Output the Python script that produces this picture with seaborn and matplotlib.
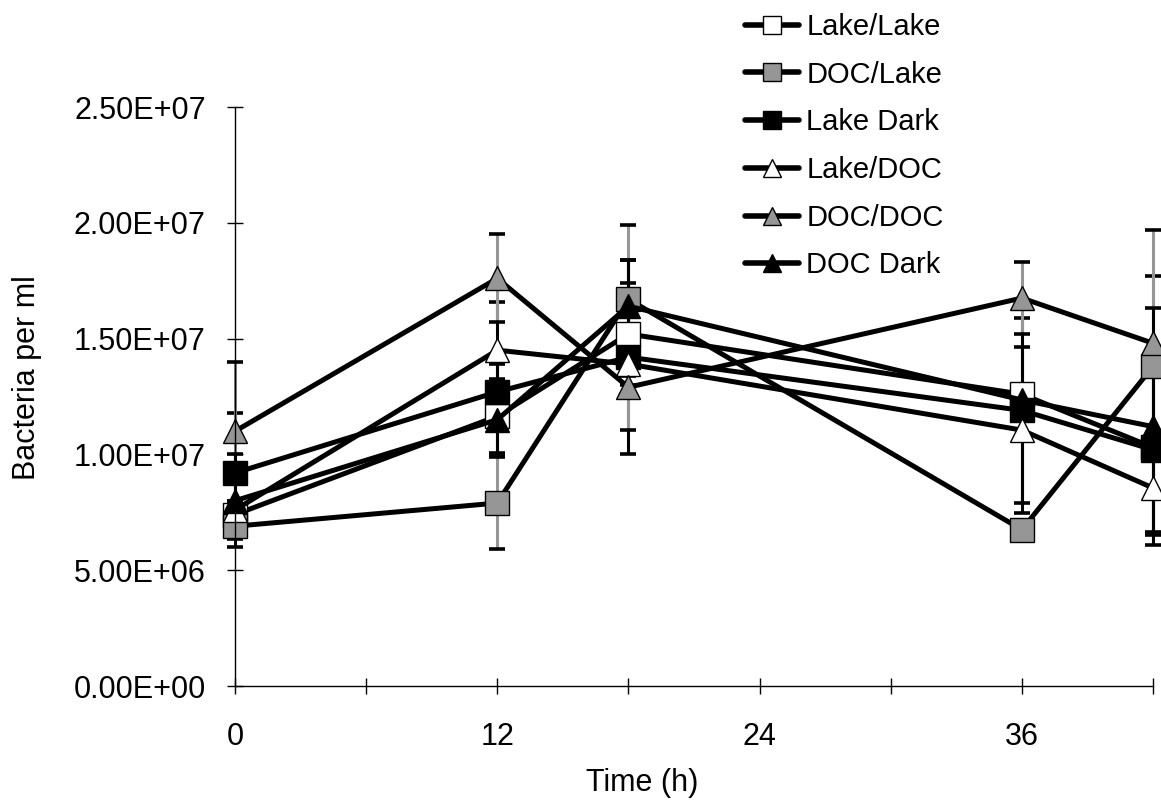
import numpy as np
import pandas as pd
import matplotlib
matplotlib.use("Agg")
import matplotlib.pyplot as plt
import seaborn as sns

# ---------------- data ----------------
times = [0, 12, 18, 36, 42]
series_names = ["Lake/Lake", "DOC/Lake", "Lake Dark", "Lake/DOC", "DOC/DOC", "DOC Dark"]

lake_lake = [7.4e6, 11.65e6, 15.2e6, 12.6e6, 10.3e6]
doc_lake = [6.9e6, 7.9e6, 16.7e6, 6.75e6, 13.8e6]
lake_dark = [9.2e6, 12.7e6, 14.2e6, 11.9e6, 10.2e6]
lake_doc = [7.6e6, 14.5e6, 13.9e6, 11.05e6, 8.55e6]
doc_doc = [11.0e6, 17.6e6, 12.9e6, 16.75e6, 14.8e6]
doc_dark = [8.0e6, 11.5e6, 16.4e6, 12.35e6, 11.2e6]

err_lake_lake = [0.6e6, 1.6e6, 2.2e6, 0.4e6, 0.5e6]
err_doc_lake = [0.55e6, 2.0e6, 3.2e6, 0.4e6, 3.9e6]
err_lake_dark = [2.6e6, 1.2e6, 4.2e6, 4.0e6, 3.7e6]
err_lake_doc = [0.4e6, 2.1e6, 0.5e6, 3.6e6, 1.9e6]
err_doc_doc = [3.0e6, 1.9e6, 1.85e6, 1.55e6, 4.9e6]
err_doc_dark = [2.0e6, 1.55e6, 2.0e6, 0.4e6, 5.1e6]

x_ticks = [0, 6, 12, 18, 24, 30, 36, 42]
x_tick_labels = ["0", "", "12", "", "24", "", "36", ""]
y_ticks = [0, 5e6, 1e7, 1.5e7, 2e7, 2.5e7]

x_label = "Time (h)"
y_label = "Bacteria per ml"

values = [lake_lake, doc_lake, lake_dark, lake_doc, doc_doc, doc_dark]
errors = [err_lake_lake, err_doc_lake, err_lake_dark, err_lake_doc, err_doc_doc, err_doc_dark]

# ---------------- styles ----------------
GRAY = "#969696"
markers = ["s", "s", "s", "^", "^", "^"]
face_colors = ["white", GRAY, "black", "white", GRAY, "black"]
bar_colors = ["black", GRAY, "black", "black", GRAY, "black"]

sns.set_style("white")
plt.rcParams["font.family"] = ["Liberation Sans", "DejaVu Sans"]
plt.rcParams["text.color"] = "black"
plt.rcParams["axes.labelcolor"] = "black"
plt.rcParams["xtick.color"] = "black"
plt.rcParams["ytick.color"] = "black"

fig = plt.figure(figsize=(11.61, 8.06), dpi=100)
ax = fig.add_axes([235 / 1161, (806 - 686) / 806, (1153 - 235) / 1161, 579 / 806])

rows = []
for name, vals in zip(series_names, values):
    for t, v in zip(times, vals):
        rows.append({"Time": t, "Bacteria": v, "Series": name})
df = pd.DataFrame(rows)

for i, name in enumerate(series_names):
    sub = df[df["Series"] == name]
    eb = ax.errorbar(sub["Time"], sub["Bacteria"], yerr=errors[i], fmt="none",
                     ecolor=bar_colors[i], elinewidth=2.2, capsize=6, capthick=2.6,
                     clip_on=False, zorder=1.5)
    for cl in eb[1]:
        cl.set_color("black")
        cl.set_markeredgecolor("black")
        cl.set_markerfacecolor("black")
        cl.set_clip_on(False)
    for lc in eb[2]:
        lc.set_clip_on(False)

for i, name in enumerate(series_names):
    sub = df[df["Series"] == name]
    sns.lineplot(data=sub, x="Time", y="Bacteria", ax=ax, color="black",
                 linewidth=3.6, marker=markers[i], markersize=17,
                 markerfacecolor=face_colors[i], markeredgecolor="black",
                 markeredgewidth=1.0, label=name, clip_on=False, zorder=2 + i * 0.01,
                 legend=False)

ax.set_xlim(0, 42)
ax.set_ylim(0, 2.5e7)
ax.set_xticks(x_ticks)
ax.set_xticklabels(x_tick_labels)
ax.set_yticks(y_ticks)
ax.set_yticklabels([f"{v:.2E}" for v in y_ticks])

for s in ["top", "right"]:
    ax.spines[s].set_visible(False)
for s in ["left", "bottom"]:
    ax.spines[s].set_color("black")
    ax.spines[s].set_linewidth(1.0)

ax.tick_params(axis="both", which="major", bottom=True, left=True, direction="inout",
               length=12, width=1.0, color="black", labelsize=22, labelcolor="black")
ax.tick_params(axis="y", pad=15)
ax.tick_params(axis="x", pad=20)

ax.set_xlabel(x_label, fontsize=22, color="black")
ax.set_ylabel(y_label, fontsize=22, color="black")
ax.xaxis.set_label_coords(0.444, -0.142)
ax.yaxis.set_label_coords(-0.21, 0.532)

handles = [plt.Line2D([], [], color="black", linewidth=4, marker=markers[i], markersize=17,
                      markerfacecolor=face_colors[i], markeredgecolor="black",
                      markeredgewidth=1.0) for i in range(len(series_names))]
fig.legend(handles, series_names, loc="upper left", bbox_to_anchor=(745 / 1161, 1 - 13 / 806),
           frameon=False, fontsize=21, markerscale=0.78, handlelength=1.85,
           handletextpad=0.25, labelspacing=0.675, borderpad=0, borderaxespad=0,
           labelcolor="black")

fig.savefig("out.png", dpi=100)
